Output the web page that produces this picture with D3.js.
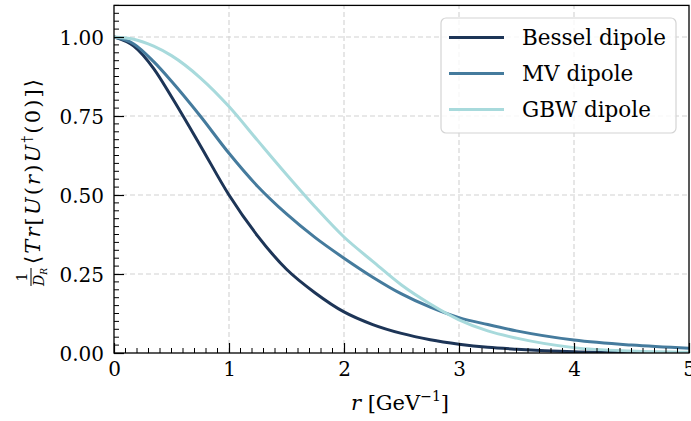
<!DOCTYPE html>
<html>
<head>
<meta charset="utf-8">
<script src="https://cdn.jsdelivr.net/npm/d3@7"></script>
<style>
  body { margin: 0; background: #fff; }
  svg { display: block; font-family: "DejaVu Serif", serif; }
</style>
</head>
<body>
<svg id="chart" width="691" height="421"></svg>
<script>
// values
const rVals      = [0, 0.172, 0.345, 0.5, 0.75, 1.0, 1.25, 1.5, 1.75, 2.0, 2.25, 2.5, 2.75, 3.0, 3.25, 3.5, 4.0, 4.5, 5.0];
const besselVals = [1.0, 0.971, 0.90, 0.811, 0.657, 0.50, 0.37, 0.265, 0.19, 0.13, 0.09, 0.062, 0.042, 0.028, 0.018, 0.012, 0.004, 0.001, 0.0];
const mvVals     = [1.0, 0.978, 0.922, 0.86, 0.75, 0.632, 0.527, 0.44, 0.365, 0.30, 0.24, 0.187, 0.145, 0.112, 0.09, 0.07, 0.041, 0.025, 0.015];
const gbwVals    = [1.0, 0.993, 0.971, 0.941, 0.871, 0.78, 0.672, 0.565, 0.462, 0.367, 0.29, 0.215, 0.155, 0.105, 0.07, 0.047, 0.017, 0.006, 0.002];

const seriesNames = ["Bessel dipole", "MV dipole", "GBW dipole"];
const seriesColors = ["#1d3557", "#457b9d", "#a8dadc"];
const xTicks = [0, 1, 2, 3, 4, 5];
const yTicks = [0, 0.25, 0.5, 0.75, 1.0];

const svg = d3.select("#chart");
const x = d3.scaleLinear().domain([0, 5]).range([114, 689]);
const y = d3.scaleLinear().domain([0, 1.1]).range([353, 5.4]);

// grid
const grid = svg.append("g").attr("stroke", "#d2d2d2").attr("stroke-width", 1.1).attr("stroke-dasharray", "5,3");
xTicks.filter(d => d > 0 && d < 5).forEach(d => {
    grid.append("line").attr("x1", x(d)).attr("x2", x(d)).attr("y1", y(0)).attr("y2", y(1.1));
});
yTicks.filter(d => d > 0).forEach(d => {
    grid.append("line").attr("x1", x(0)).attr("x2", x(5)).attr("y1", y(d)).attr("y2", y(d));
});

// curves
svg.append("clipPath").attr("id", "clip").append("rect")
    .attr("x", x(0)).attr("y", y(1.1)).attr("width", x(5) - x(0)).attr("height", y(0) - y(1.1));

const allSeries = [besselVals, mvVals, gbwVals];
const line = d3.line().x((d, i) => x(rVals[i])).y(d => y(d)).curve(d3.curveMonotoneX);
allSeries.forEach((vals, k) => {
    svg.append("path")
        .datum(vals)
        .attr("clip-path", "url(#clip)")
        .attr("fill", "none")
        .attr("stroke", seriesColors[k])
        .attr("stroke-width", 3)
        .attr("stroke-linejoin", "round")
        .attr("d", line);
});

// axes (ticks point inward)
const xAxis = svg.append("g").attr("transform", `translate(0,${y(0)})`)
    .call(d3.axisBottom(x).tickValues(xTicks).tickSize(-10).tickPadding(15).tickFormat(d3.format("d")));
const yAxis = svg.append("g").attr("transform", `translate(${x(0)},0)`)
    .call(d3.axisLeft(y).tickValues(yTicks).tickSize(-10).tickPadding(20).tickFormat(d3.format(".2f")));
[xAxis, yAxis].forEach(a => {
    a.select(".domain").remove();
    a.selectAll(".tick line").attr("stroke", "#000").attr("stroke-width", 1.2);
    a.selectAll("text").attr("font-family", "DejaVu Serif").attr("font-size", 20).attr("fill", "#000");
});
xAxis.selectAll("text").attr("dy", "0.71em").attr("y", 9);
yAxis.selectAll("text").attr("x", -10).attr("dy", "0.36em");

// minor ticks
const minorX = d3.range(0, 5.0001, 0.1).filter(d => Math.abs(d - Math.round(d)) > 1e-6);
const minorY = d3.range(0, 1.1001, 0.025).filter(d => Math.abs(d * 4 - Math.round(d * 4)) > 1e-6);
svg.append("g").selectAll("line").data(minorX).join("line")
    .attr("x1", d => x(d)).attr("x2", d => x(d)).attr("y1", y(0)).attr("y2", y(0) - 5)
    .attr("stroke", "#000").attr("stroke-width", 1);
svg.append("g").selectAll("line").data(minorY).join("line")
    .attr("x1", x(0)).attr("x2", x(0) + 5).attr("y1", d => y(d)).attr("y2", d => y(d))
    .attr("stroke", "#000").attr("stroke-width", 1);

// frame
svg.append("rect")
    .attr("x", x(0)).attr("y", y(1.1)).attr("width", x(5) - x(0)).attr("height", y(0) - y(1.1))
    .attr("fill", "none").attr("stroke", "#000").attr("stroke-width", 1.3);

// legend
const legend = svg.append("g").attr("transform", "translate(441,18)");
legend.append("rect").attr("width", 235).attr("height", 115).attr("rx", 5)
    .attr("fill", "#fff").attr("fill-opacity", 0.8).attr("stroke", "#d4d4d4").attr("stroke-width", 1.2);
seriesNames.forEach((name, i) => {
    const ly = 19.5 + i * 36;
    legend.append("line").attr("x1", 8).attr("x2", 63).attr("y1", ly).attr("y2", ly)
        .attr("stroke", seriesColors[i]).attr("stroke-width", 3);
    legend.append("text").attr("x", 81).attr("y", ly + 7).attr("font-size", 21.5).attr("fill", "#000").text(name);
});

// x label
const xl = svg.append("text").attr("x", 400).attr("y", 410).attr("text-anchor", "middle")
    .attr("font-size", 21).attr("fill", "#000");
xl.append("tspan").attr("font-style", "italic").text("r");
xl.append("tspan").text(" [GeV");
xl.append("tspan").attr("font-size", 14).attr("dy", -9).text("\u22121");
xl.append("tspan").attr("dy", 9).text("]");

// y label
const yl = svg.append("g").attr("transform", "translate(40,183) rotate(-90)");
yl.append("text").attr("x", -94).attr("y", -13).attr("text-anchor", "middle").attr("font-size", 14).text("1");
yl.append("line").attr("x1", -103).attr("x2", -85).attr("y1", -9).attr("y2", -9).attr("stroke", "#000").attr("stroke-width", 1);
const dr = yl.append("text").attr("x", -103).attr("y", 4).attr("font-size", 14);
dr.append("tspan").attr("font-style", "italic").text("D");
dr.append("tspan").attr("font-style", "italic").attr("font-size", 9).attr("dy", 3).text("R");
const main = yl.append("text").attr("x", -81).attr("y", 0).attr("font-size", 21)
    .attr("textLength", 185).attr("lengthAdjust", "spacing");
main.append("tspan").text("\u27e8");
main.append("tspan").attr("font-style", "italic").text("Tr");
main.append("tspan").text("[");
main.append("tspan").attr("font-style", "italic").text("U");
main.append("tspan").text("(");
main.append("tspan").attr("font-style", "italic").text("r");
main.append("tspan").text(")");
main.append("tspan").attr("font-style", "italic").text("U");
main.append("tspan").attr("font-size", 14).attr("dy", -8).text("\u2020");
main.append("tspan").attr("dy", 8).text("(0)]\u27e9");
</script>
</body>
</html>
